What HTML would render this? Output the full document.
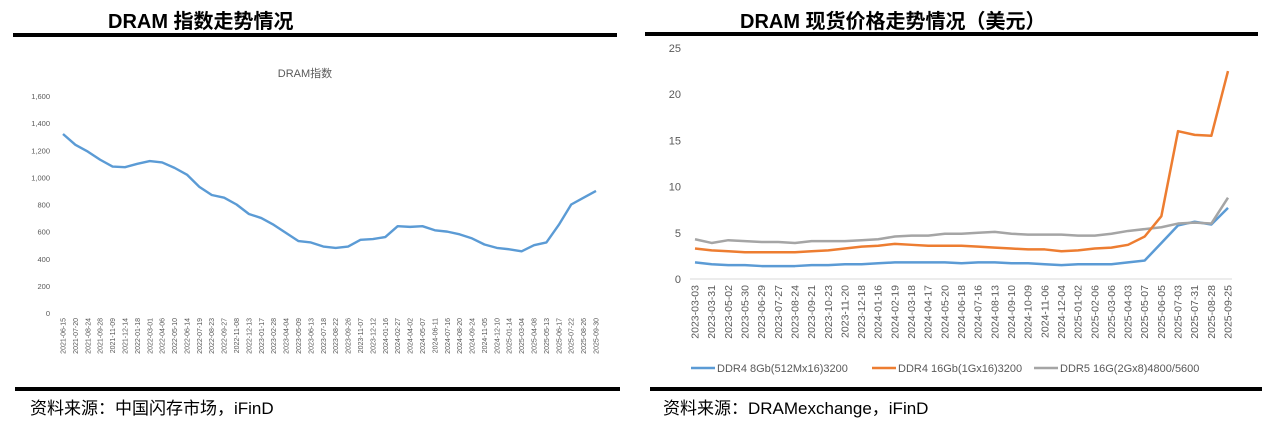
<!DOCTYPE html>
<html><head><meta charset="utf-8"><style>
body{margin:0;background:#fff;width:1268px;height:435px;overflow:hidden;font-family:"Liberation Sans","Noto Sans CJK SC",sans-serif}
.abs{position:absolute}
.hd{font-weight:bold;font-size:20px;color:#000;top:5px;white-space:nowrap}
.rule{background:#000;height:4px}
.src{font-size:17px;top:394px;color:#000;white-space:nowrap;font-family:"Liberation Sans","WenQuanYi Zen Hei",sans-serif}
</style></head><body>
<div class="abs hd" style="left:108px">DRAM 指数走势情况</div>
<div class="abs hd" style="left:740px">DRAM 现货价格走势情况（美元）</div>
<div class="abs rule" style="left:13px;top:33px;width:604px"></div>
<div class="abs rule" style="left:645px;top:32px;width:613px"></div>
<div class="abs rule" style="left:15px;top:387px;width:605px"></div>
<div class="abs rule" style="left:650px;top:387px;width:612px"></div>
<div class="abs src" style="left:30px">资料来源：中国闪存市场，iFinD</div>
<div class="abs src" style="left:663px">资料来源：DRAMexchange，iFinD</div>
<svg class="abs" style="left:0;top:0" width="1268" height="435" id="svg"></svg>
<script>
const leftCats=["2021-06-15","2021-07-20","2021-08-24","2021-09-28","2021-11-09","2021-12-14","2022-01-18","2022-03-01","2022-04-06","2022-05-10","2022-06-14","2022-07-19","2022-08-23","2022-09-27","2022-11-08","2022-12-13","2023-01-17","2023-02-28","2023-04-04","2023-05-09","2023-06-13","2023-07-18","2023-08-22","2023-09-26","2023-11-07","2023-12-12","2024-01-16","2024-02-27","2024-04-02","2024-05-07","2024-06-11","2024-07-16","2024-08-20","2024-09-24","2024-11-05","2024-12-10","2025-01-14","2025-03-04","2025-04-08","2025-05-13","2025-06-17","2025-07-22","2025-08-26","2025-09-30"];
const leftVals=[1320,1240,1190,1130,1080,1075,1100,1120,1110,1070,1020,930,870,850,800,730,700,650,590,530,520,490,480,490,540,545,560,640,635,640,610,600,580,550,505,480,470,455,500,520,650,800,850,900];
const leftTicks=[0,200,400,600,800,1000,1200,1400,1600];
const leftTickLabels=["0","200","400","600","800","1,000","1,200","1,400","1,600"];
const rightCats=["2023-03-03","2023-03-31","2023-05-02","2023-05-30","2023-06-29","2023-07-27","2023-08-24","2023-09-21","2023-10-23","2023-11-20","2023-12-18","2024-01-16","2024-02-19","2024-03-18","2024-04-17","2024-05-20","2024-06-18","2024-07-16","2024-08-13","2024-09-10","2024-10-09","2024-11-06","2024-12-04","2025-01-02","2025-02-06","2025-03-06","2025-04-03","2025-05-07","2025-06-05","2025-07-03","2025-07-31","2025-08-28","2025-09-25"];
const ddr4_8=[1.8,1.6,1.5,1.5,1.4,1.4,1.4,1.5,1.5,1.6,1.6,1.7,1.8,1.8,1.8,1.8,1.7,1.8,1.8,1.7,1.7,1.6,1.5,1.6,1.6,1.6,1.8,2.0,3.9,5.8,6.2,5.9,7.7];
const ddr4_16=[3.3,3.1,3.0,2.9,2.9,2.9,2.9,3.0,3.1,3.3,3.5,3.6,3.8,3.7,3.6,3.6,3.6,3.5,3.4,3.3,3.2,3.2,3.0,3.1,3.3,3.4,3.7,4.6,6.8,16.0,15.6,15.5,22.5];
const ddr5_16=[4.3,3.9,4.2,4.1,4.0,4.0,3.9,4.1,4.1,4.1,4.2,4.3,4.6,4.7,4.7,4.9,4.9,5.0,5.1,4.9,4.8,4.8,4.8,4.7,4.7,4.9,5.2,5.4,5.6,6.0,6.1,6.0,8.8];
const rightTicks=[0,5,10,15,20,25];
const NS="http://www.w3.org/2000/svg";
const svg=document.getElementById('svg');
function mk(tag,attrs,parent){const e=document.createElementNS(NS,tag);for(const k in attrs)e.setAttribute(k,attrs[k]);(parent||svg).appendChild(e);return e;}
const lx0=63,lx1=596,ly0=313,ly1=96;
const lX=i=>lx0+i*(lx1-lx0)/(leftCats.length-1);
const lY=v=>ly0-(v/1600)*(ly0-ly1);
const lg=mk('g',{});


const lt=mk('text',{x:305,y:77,'text-anchor':'middle','font-size':11,fill:'#595959'},lg);
lt.textContent='DRAM指数';


leftTicks.forEach((v,i)=>{const t=mk('text',{x:50,y:lY(v)+3,'text-anchor':'end','font-size':7.5,fill:'#595959'},lg);t.textContent=leftTickLabels[i];

});
leftCats.forEach((c,i)=>{const t=mk('text',{transform:`translate(${lX(i)+2.5},${ly0+5}) rotate(-90)`,'text-anchor':'end','font-size':7,fill:'#595959'},lg);t.textContent=c;

});
const lp=mk('polyline',{points:leftVals.map((v,i)=>lX(i)+','+lY(v)).join(' '),fill:'none',stroke:'#5B9BD5','stroke-width':2.4,'stroke-linejoin':'round'},lg);


const rx0=695,rx1=1228,ry0=279,ry1=48;
const rX=i=>rx0+i*(rx1-rx0)/(rightCats.length-1);
const rY=v=>ry0-(v/25)*(ry0-ry1);
const rg=mk('g',{});


mk('line',{x1:rx0-5,x2:rx1+4,y1:ry0,y2:ry0,stroke:'#d9d9d9','stroke-width':1},rg);
rightTicks.forEach(v=>{const t=mk('text',{x:681,y:rY(v)+4,'text-anchor':'end','font-size':11,fill:'#595959'},rg);t.textContent=v;

});
rightCats.forEach((c,i)=>{const t=mk('text',{transform:`translate(${rX(i)+3.5},${ry0+6}) rotate(-90)`,'text-anchor':'end','font-size':10.5,fill:'#595959'},rg);t.textContent=c;

});
const series=[[ddr4_8,'#5B9BD5','ddr4-8gb-line'],[ddr5_16,'#A5A5A5','ddr5-16g-line'],[ddr4_16,'#ED7D31','ddr4-16gb-line']];
series.forEach(s=>{const p=mk('polyline',{points:s[0].map((v,i)=>rX(i)+','+rY(v)).join(' '),fill:'none',stroke:s[1],'stroke-width':2.5,'stroke-linejoin':'round'},rg);

});
const legend=[['DDR4 8Gb(512Mx16)3200','#5B9BD5',691],['DDR4 16Gb(1Gx16)3200','#ED7D31',872],['DDR5 16G(2Gx8)4800/5600','#A5A5A5',1034]];
legend.forEach(l=>{const g=mk('g',{},rg);


mk('line',{x1:l[2],x2:l[2]+24,y1:368,y2:368,stroke:l[1],'stroke-width':2.5},g);
const t=mk('text',{x:l[2]+26,y:372,'font-size':11,fill:'#595959'},g);t.textContent=l[0];});
</script>
</body></html>
